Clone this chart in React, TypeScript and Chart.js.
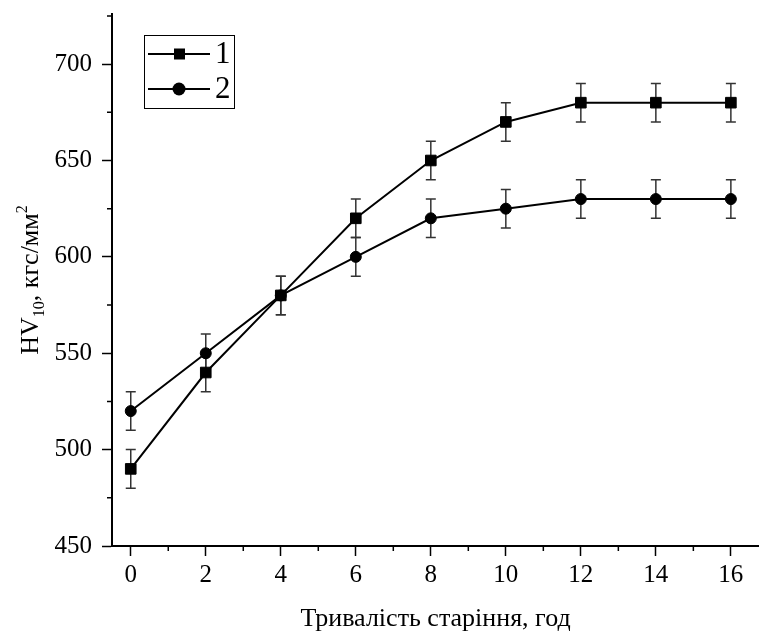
import React, { useEffect, useRef } from "react";
import { Chart, registerables } from "chart.js";

Chart.register(...registerables);

const hours = [0, 2, 4, 6, 8, 10, 12, 14, 16];
const hv1 = [490, 540, 580, 620, 650, 670, 680, 680, 680];
const hv2 = [520, 550, 580, 600, 620, 625, 630, 630, 630];
const err1 = [10, 10, 10, 10, 10, 10, 10, 10, 10];
const err2 = [10, 10, 10, 10, 10, 10, 10, 10, 10];
const xTicks = [0, 2, 4, 6, 8, 10, 12, 14, 16];
const xMinorTicks = [1, 3, 5, 7, 9, 11, 13, 15];
const yTicks = [450, 500, 550, 600, 650, 700];
const yMinorTicks = [475, 525, 575, 625, 675, 725];
const seriesLabels = ["1", "2"];
const xTitle = "Тривалість старіння, год";

const FONT = '"Liberation Serif", "Times New Roman", serif';

const errorBarsPlugin = {
  id: "errorBars",
  beforeDatasetsDraw(chart: any) {
    const ctx = chart.ctx;
    const xs = chart.scales.x;
    const ys = chart.scales.y;
    const errs = [err1, err2];
    const vals = [hv1, hv2];
    ctx.save();
    ctx.strokeStyle = "#333";
    ctx.lineWidth = 1.5;
    vals.forEach((arr, d) => {
      arr.forEach((v, i) => {
        const px = xs.getPixelForValue(hours[i]);
        const top = ys.getPixelForValue(v + errs[d][i]);
        const bot = ys.getPixelForValue(v - errs[d][i]);
        ctx.beginPath();
        ctx.moveTo(px, top);
        ctx.lineTo(px, bot);
        ctx.moveTo(px - 5, top);
        ctx.lineTo(px + 5, top);
        ctx.moveTo(px - 5, bot);
        ctx.lineTo(px + 5, bot);
        ctx.stroke();
      });
    });
    ctx.restore();
  },
};

const decorPlugin = {
  id: "decor",
  afterDraw(chart: any) {
    const ctx = chart.ctx;
    const xs = chart.scales.x;
    const ys = chart.scales.y;
    const area = chart.chartArea;
    ctx.save();
    ctx.strokeStyle = "#000";
    ctx.lineWidth = 1.5;
    ctx.beginPath();
    xMinorTicks.forEach((v) => {
      const px = xs.getPixelForValue(v);
      ctx.moveTo(px, area.bottom);
      ctx.lineTo(px, area.bottom + 5);
    });
    yMinorTicks.forEach((v) => {
      const py = ys.getPixelForValue(v);
      ctx.moveTo(area.left, py);
      ctx.lineTo(area.left - 5, py);
    });
    ctx.stroke();

    const big = `26px ${FONT}`;
    const small = `16px ${FONT}`;
    const parts = [
      { t: "HV", f: big, dy: 0 },
      { t: "10", f: small, dy: 6 },
      { t: ", кгс/мм", f: big, dy: 0 },
      { t: "2", f: small, dy: -11 },
    ];
    let total = 0;
    parts.forEach((p) => {
      ctx.font = p.f;
      total += ctx.measureText(p.t).width;
    });
    const cy = (area.top + area.bottom) / 2;
    ctx.translate(38, cy);
    ctx.rotate(-Math.PI / 2);
    ctx.fillStyle = "#000";
    ctx.textBaseline = "alphabetic";
    ctx.textAlign = "left";
    let x = -total / 2;
    parts.forEach((p) => {
      ctx.font = p.f;
      ctx.fillText(p.t, x, p.dy);
      x += ctx.measureText(p.t).width;
    });
    ctx.restore();

    ctx.save();
    ctx.strokeStyle = "#000";
    ctx.lineWidth = 1;
    ctx.strokeRect(144.5, 35.5, 90, 73);
    const rows = [54, 89];
    rows.forEach((ry, i) => {
      ctx.strokeStyle = "#000";
      ctx.lineWidth = 2;
      ctx.beginPath();
      ctx.moveTo(148, ry);
      ctx.lineTo(210, ry);
      ctx.stroke();
      ctx.fillStyle = "#000";
      if (i === 0) {
        ctx.fillRect(174, ry - 5.5, 11, 11);
      } else {
        ctx.beginPath();
        ctx.arc(179, ry, 6.5, 0, Math.PI * 2);
        ctx.fill();
      }
      ctx.font = `31px ${FONT}`;
      ctx.textBaseline = "middle";
      ctx.textAlign = "left";
      ctx.fillText(seriesLabels[i], 215, ry + 1);
    });
    ctx.restore();
  },
};

export default function App() {
  const ref = useRef<HTMLCanvasElement>(null);
  useEffect(() => {
    document.body.style.margin = "0";
    const chart = new Chart(ref.current as HTMLCanvasElement, {
      type: "line",
      data: {
        datasets: [
          {
            label: seriesLabels[0],
            data: hours.map((h, i) => ({ x: h, y: hv1[i] })),
            borderColor: "#000",
            backgroundColor: "#000",
            borderWidth: 2,
            pointStyle: "rect",
            pointRadius: 7.5,
            pointBorderWidth: 1,
            tension: 0,
          },
          {
            label: seriesLabels[1],
            data: hours.map((h, i) => ({ x: h, y: hv2[i] })),
            borderColor: "#000",
            backgroundColor: "#000",
            borderWidth: 2,
            pointStyle: "circle",
            pointRadius: 5.5,
            pointBorderWidth: 1,
            tension: 0,
          },
        ],
      },
      options: {
        animation: false,
        responsive: false,
        maintainAspectRatio: false,
        layout: { autoPadding: false, padding: { top: 14, left: 0, right: 0, bottom: 0 } },
        plugins: { legend: { display: false }, tooltip: { enabled: false } },
        scales: {
          x: {
            type: "linear",
            min: -0.5,
            max: 16.75,
            afterBuildTicks: (s: any) => {
              s.ticks = xTicks.map((v) => ({ value: v }));
            },
            afterFit: (s: any) => {
              s.height = 89;
              s.paddingLeft = 0;
              s.paddingRight = 0;
              s.paddingTop = 0;
              s.paddingBottom = 0;
            },
            ticks: {
              color: "#000",
              font: { family: FONT, size: 25 },
              padding: 4,
              maxRotation: 0,
              autoSkip: false,
            },
            grid: {
              drawOnChartArea: false,
              drawTicks: true,
              tickLength: 10,
              tickColor: "#000",
              tickWidth: 1.5,
            },
            border: { display: true, color: "#000", width: 2 },
            title: {
              display: true,
              text: xTitle,
              color: "#000",
              font: { family: FONT, size: 26 },
              padding: { top: 0, bottom: 0 },
            },
          },
          y: {
            type: "linear",
            min: 450,
            max: 726,
            afterBuildTicks: (s: any) => {
              s.ticks = yTicks.map((v) => ({ value: v }));
            },
            afterFit: (s: any) => {
              s.width = 112;
              s.paddingLeft = 0;
              s.paddingRight = 0;
              s.paddingTop = 0;
              s.paddingBottom = 0;
            },
            ticks: {
              color: "#000",
              font: { family: FONT, size: 25 },
              padding: 10,
              autoSkip: false,
            },
            grid: {
              drawOnChartArea: false,
              drawTicks: true,
              tickLength: 10,
              tickColor: "#000",
              tickWidth: 1.5,
            },
            border: { display: true, color: "#000", width: 2 },
          },
        },
      },
      plugins: [errorBarsPlugin, decorPlugin],
    });
    return () => chart.destroy();
  }, []);
  return (
    <div style={{ position: "absolute", left: 0, top: 0, width: 759, height: 635 }}>
      <canvas ref={ref} width={759} height={635} style={{ width: 759, height: 635 }} />
    </div>
  );
}
